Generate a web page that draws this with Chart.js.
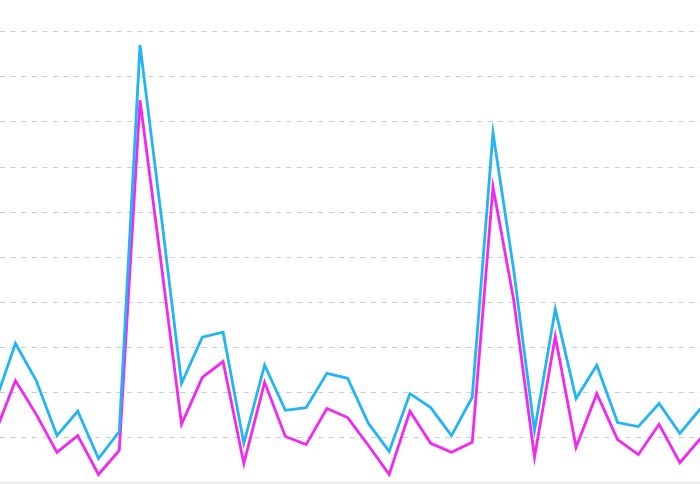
<!DOCTYPE html>
<html>
<head>
<meta charset="utf-8">
<script src="https://cdn.jsdelivr.net/npm/chart.js@4"></script>
<style>
  html, body { margin:0; padding:0; background:#fff; }
  #wrap { width:700px; height:484px; position:relative; }
</style>
</head>
<body>
<div id="wrap"><canvas id="lineChart"></canvas></div>
<script>
// positions along the x axis (one per sample)
const steps = [0,1,2,3,4,5,6,7,8,9,10,11,12,13,14,15,16,17,18,19,20,21,22,23,24,25,26,27,28,29,30,31,32,33,34];

const blueValues = [17.6,30.9,22.7,10.5,15.9,5.4,11.4,97.0,60.0,22.1,32.3,33.4,8.8,26.1,16.1,16.7,24.3,23.2,13.2,7.0,19.8,16.7,10.5,19.0,77.6,47.1,11.6,38.5,18.7,26.1,13.4,12.5,17.6,11.0,16.5];

const pinkValues = [10.8,22.7,15.2,6.8,10.5,1.9,7.2,84.8,49.3,13.0,23.4,26.9,4.3,22.3,10.3,8.5,16.5,14.5,8.3,1.9,15.9,8.8,6.8,9.0,65.6,40.5,5.7,32.5,7.9,19.8,9.6,6.3,13.0,4.5,9.9];

function toPoints(values){
  return steps.map((s,i) => ({x:s, y:values[i]}));
}

const lineChart = new Chart(
  document.getElementById('lineChart'),
  {
    type:'line',
    data:{
      datasets:[
        {
          data:toPoints(blueValues),
          borderColor:'#22b4f4',
          borderWidth:2.8,
          pointRadius:0,
          tension:0
        },
        {
          data:toPoints(pinkValues),
          borderColor:'#f028f0',
          borderWidth:2.8,
          pointRadius:0,
          tension:0
        }
      ]
    },
    options:{
      responsive:true,
      maintainAspectRatio:false,
      animation:false,
      layout:{ padding:{ top:0, left:0, right:0, bottom:1 } },
      plugins:{
        legend:{ display:false },
        tooltip:{ enabled:false }
      },
      scales:{
        x:{
          type:'linear',
          display:false,
          min:0.256,
          max:33.97
        },
        y:{
          min:0,
          max:107.0,
          ticks:{ display:false, stepSize:10 },
          border:{
            display:false,
            dash:(ctx) => (ctx.tick && ctx.tick.value === 0) ? [] : [5,5.6]
          },
          grid:{
            drawTicks:false,
            lineWidth:(ctx) => (ctx.tick && ctx.tick.value === 0) ? 1.5 : 1,
            color:(ctx) => {
              const v = ctx.tick ? ctx.tick.value : 1;
              if (v === 0) return '#e6e6e6';
              return (v % 10 === 0) ? '#cccccc' : 'rgba(0,0,0,0)';
            }
          }
        }
      }
    }
  }
);
</script>
</body>
</html>
